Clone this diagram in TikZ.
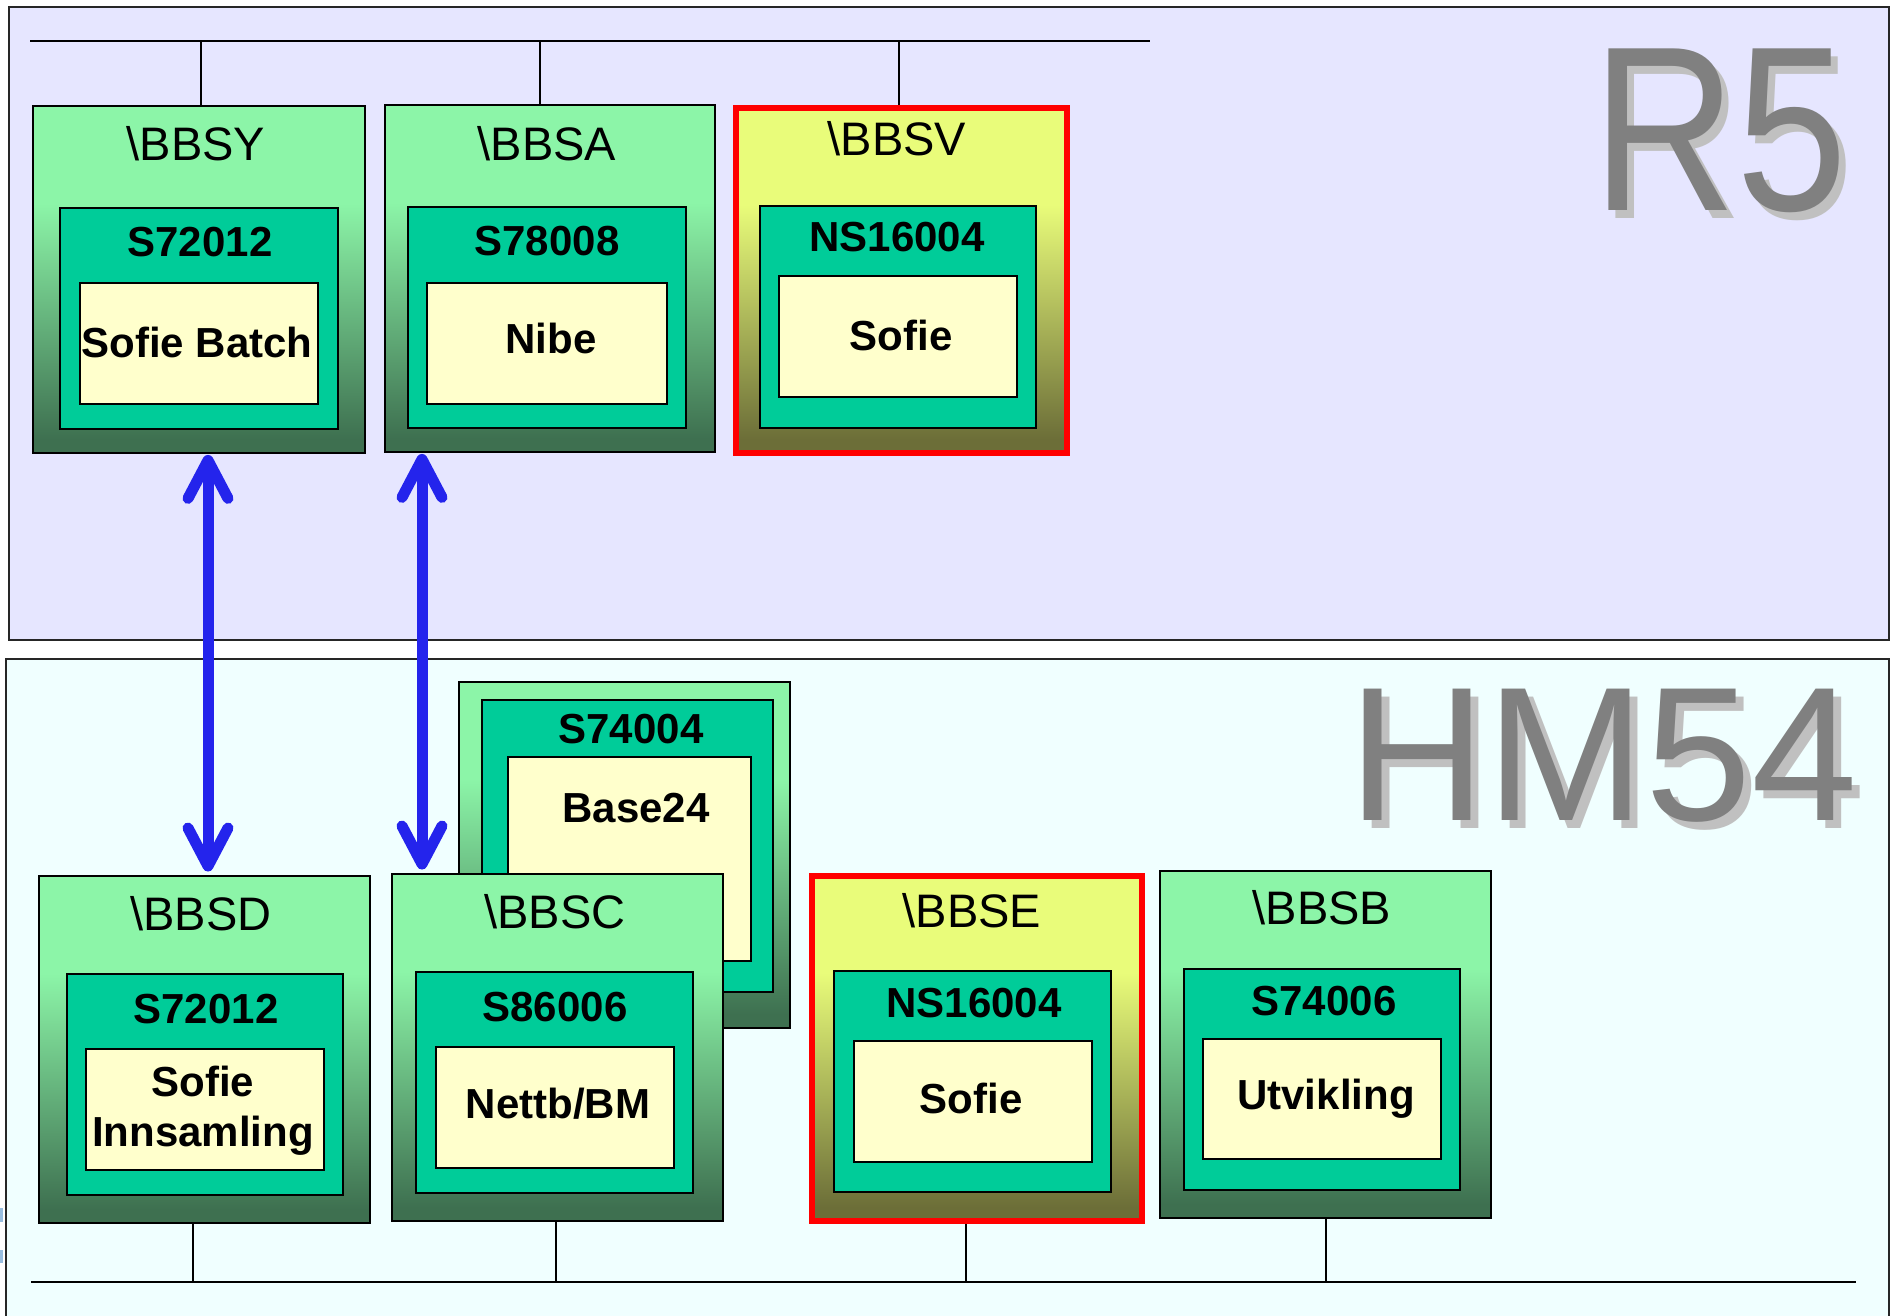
\documentclass[tikz,border=0pt]{standalone}
\usepackage{fontspec}
\setmainfont{Liberation Sans}
\usetikzlibrary{calc}
\definecolor{rfivebg}{HTML}{E6E6FF}
\definecolor{hmbg}{HTML}{F0FFFF}
\definecolor{teal}{HTML}{00CC99}
\definecolor{cream}{HTML}{FFFFCC}
\definecolor{glight}{HTML}{8CF5A8}
\definecolor{gdark}{HTML}{3E7050}
\definecolor{ylight}{HTML}{E9FC7A}
\definecolor{ydark}{HTML}{6C6E38}
\definecolor{arrowblue}{HTML}{2424EC}
\definecolor{bigtext}{HTML}{808080}
\definecolor{bigshadow}{HTML}{C0C0C0}
\definecolor{tickblue}{HTML}{98BEE0}
\pgfdeclareverticalshading{greensh}{100bp}{color(0bp)=(gdark); color(27bp)=(gdark); color(61bp)=(glight); color(100bp)=(glight)}
\pgfdeclareverticalshading{yellowsh}{100bp}{color(0bp)=(ydark); color(27bp)=(ydark); color(61bp)=(ylight); color(100bp)=(ylight)}
\newcommand{\shadowed}[1]{\makebox[0pt][l]{\hspace{8pt}\raisebox{-8pt}{\color{bigshadow}#1}}{\color{bigtext}#1}}
\tikzset{
  panel/.style={draw=black!85, line width=2pt},
  gbox/.style={rectangle, draw=black, line width=2.4pt, shade, shading=greensh, inner sep=0pt},
  ybox/.style={rectangle, draw=red, line width=6pt, shade, shading=yellowsh, inner sep=0pt},
  tbox/.style={rectangle, draw=black, line width=2.4pt, fill=teal, inner sep=0pt},
  cbox/.style={rectangle, draw=black, line width=2.2pt, fill=cream, inner sep=0pt},
  dirlabel/.style={anchor=base, inner sep=0pt, font=\fontsize{47}{56}\selectfont},
  codelabel/.style={anchor=base, inner sep=0pt, font=\bfseries\fontsize{42}{50}\selectfont},
  applabel/.style={anchor=base, inner sep=0pt, align=center, font=\bfseries\fontsize{42}{50}\selectfont},
  bus/.style={draw=black, line width=2pt},
  drop/.style={draw=black, line width=1.3pt},
  shaft/.style={draw=arrowblue, line width=11pt},
  barb/.style={draw=arrowblue, line width=11pt, line cap=round, line join=round},
}
\newcommand{\mkbox}[6]{\node[#1, anchor=north west, minimum width={#5-#3}, minimum height={#6-#4}] (#2) at (#3,#4) {};}
\begin{document}
\begin{tikzpicture}[x=1pt,y=-1pt]
\useasboundingbox (0,0) rectangle (1891,1316);
\clip (0,0) rectangle (1891,1316);
\fill[white] (0,0) rectangle (1891,1316);
% panels
\draw[panel, fill=rfivebg] (9,7) rectangle (1889,640);
\draw[panel, fill=hmbg] (6,659) rectangle (1889,1340);
\fill[tickblue] (0,1208) rectangle (3,1222);
\fill[tickblue] (0,1250) rectangle (3,1263);
% big titles
\node[anchor=base west, inner sep=0pt, font=\fontsize{235}{235}\selectfont] (r5) at (1592,211) {\scalebox{0.85}[1]{\shadowed{R5}}};
\node[anchor=base west, inner sep=0pt, font=\fontsize{191}{191}\selectfont] (hm) at (1348,820) {\shadowed{HM54}};
% upper boxes
\mkbox{gbox}{bbsy}{32}{105}{364}{452}
\mkbox{tbox}{bbsyt}{59}{207}{337}{428}
\mkbox{cbox}{bbsyc}{79}{282}{317}{403}
\node[dirlabel] (lbbsy) at (196,161) {\textbackslash BBSY};
\node[codelabel] (cbbsy) at (200,257) {S72012};
\node[applabel] (abbsy) at (197,357) {Sofie Batch};
\mkbox{gbox}{bbsa}{384}{104}{714}{451}
\mkbox{tbox}{bbsat}{407}{206}{685}{427}
\mkbox{cbox}{bbsac}{426}{282}{666}{403}
\node[dirlabel] (lbbsa) at (547,161) {\textbackslash BBSA};
\node[codelabel] (cbbsa) at (547,255) {S78008};
\node[applabel] (abbsa) at (551,353) {Nibe};
\mkbox{ybox}{bbsv}{733}{105}{1064}{450}
\mkbox{tbox}{bbsvt}{759}{205}{1035}{427}
\mkbox{cbox}{bbsvc}{778}{275}{1016}{396}
\node[dirlabel] (lbbsv) at (897,156) {\textbackslash BBSV};
\node[codelabel] (cbbsv) at (897,252) {NS16004};
\node[applabel] (abbsv) at (901,350) {Sofie};
% top bus
\coordinate (tb0) at (30,41);
\coordinate (tb1) at (1150,41);
\draw[bus] (tb0) -- (tb1);
\coordinate (td1) at (201,41);
\coordinate (td2) at (540,41);
\coordinate (td3) at (899,41);
\draw[drop] (td1) -- (td1 |- bbsy.north);
\draw[drop] (td2) -- (td2 |- bbsa.north);
\draw[drop] (td3) -- (td3 |- bbsv.north);
% lower boxes
\mkbox{gbox}{base}{458}{681}{789}{1027}
\mkbox{tbox}{baset}{481}{699}{772}{991}
\mkbox{cbox}{basec}{507}{756}{750}{960}
\node[codelabel] (cbase) at (631,743) {S74004};
\node[applabel] (abase) at (636,822) {Base24};
\mkbox{gbox}{bbsd}{38}{875}{369}{1222}
\mkbox{tbox}{bbsdt}{66}{973}{342}{1194}
\mkbox{cbox}{bbsdc}{85}{1048}{323}{1169}
\node[dirlabel] (lbbsd) at (201,930) {\textbackslash BBSD};
\node[codelabel] (cbbsd) at (206,1023) {S72012};
\node[applabel] (abbsd) at (203,1146) {Sofie\\Innsamling};
\mkbox{gbox}{bbsc}{391}{873}{722}{1220}
\mkbox{tbox}{bbsct}{415}{971}{692}{1192}
\mkbox{cbox}{bbscc}{435}{1046}{673}{1167}
\node[dirlabel] (lbbsc) at (555,928) {\textbackslash BBSC};
\node[codelabel] (cbbsc) at (555,1021) {S86006};
\node[applabel] (abbsc) at (558,1118) {Nettb/BM};
\mkbox{ybox}{bbse}{809}{873}{1139}{1218}
\mkbox{tbox}{bbset}{833}{970}{1110}{1191}
\mkbox{cbox}{bbsec}{853}{1040}{1091}{1161}
\node[dirlabel] (lbbse) at (972,927) {\textbackslash BBSE};
\node[codelabel] (cbbse) at (974,1017) {NS16004};
\node[applabel] (abbse) at (971,1113) {Sofie};
\mkbox{gbox}{bbsb}{1159}{870}{1490}{1217}
\mkbox{tbox}{bbsbt}{1183}{968}{1459}{1189}
\mkbox{cbox}{bbsbc}{1202}{1038}{1440}{1158}
\node[dirlabel] (lbbsb) at (1322,924) {\textbackslash BBSB};
\node[codelabel] (cbbsb) at (1324,1015) {S74006};
\node[applabel] (abbsb) at (1326,1109) {Utvikling};
% bottom bus
\coordinate (bb0) at (31,1282);
\coordinate (bb1) at (1856,1282);
\draw[bus] (bb0) -- (bb1);
\coordinate (bd1) at (193,1282);
\coordinate (bd2) at (556,1282);
\coordinate (bd3) at (966,1282);
\coordinate (bd4) at (1326,1282);
\draw[drop] (bd1) -- (bd1 |- bbsd.south);
\draw[drop] (bd2) -- (bd2 |- bbsc.south);
\draw[drop] (bd3) -- (bd3 |- bbse.south);
\draw[drop] (bd4) -- (bd4 |- bbsb.south);
% blue double arrows
\coordinate (a1t) at ($(bbsy.south west)+(176,6)$);
\coordinate (a1b) at ($(bbsd.north west)+(170,-9)$);
\coordinate (a2t) at ($(bbsa.south west)+(38,6)$);
\coordinate (a2b) at ($(bbsc.north west)+(31,-9)$);
\draw[shaft] (a1t) -- (a1b);
\draw[barb] ($(a1t)+(-20,38)$) -- (a1t) -- ($(a1t)+(20,38)$);
\draw[barb] ($(a1b)+(-20,-38)$) -- (a1b) -- ($(a1b)+(20,-38)$);
\draw[shaft] (a2t) -- (a2b);
\draw[barb] ($(a2t)+(-20,38)$) -- (a2t) -- ($(a2t)+(20,38)$);
\draw[barb] ($(a2b)+(-20,-38)$) -- (a2b) -- ($(a2b)+(20,-38)$);
\end{tikzpicture}
\end{document}
